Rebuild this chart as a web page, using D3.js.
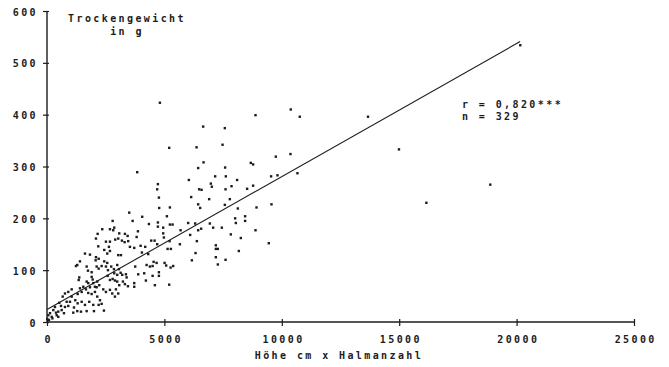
<!DOCTYPE html>
<html>
<head>
<meta charset="utf-8">
<script src="https://cdn.jsdelivr.net/npm/d3@7"></script>
<style>
    body { margin: 0; background: #fff; }
    svg text { font-family: "DejaVu Sans Mono", monospace; font-weight: bold; font-size: 10px; letter-spacing: 2.4px; fill: #1c1c1c; }
</style>
</head>
<body>
<svg id="canvas" width="669" height="367"></svg>
<script>
// Höhe cm x Halmanzahl
let heightTimesStems = [
    4808, 10382, 10765, 8880, 6651, 7574, 5204, 6370, 7476, 3842,
    6668, 6438, 7587, 8680, 8778, 9744, 10369, 10667, 9544, 9816,
    6042, 7161, 7616, 8097, 6978, 7021, 4723, 4693, 6480, 6582,
    7604, 7859, 8523, 8778, 4766, 6140, 6906, 7787, 6438, 6523,
    4778, 5234, 7574, 8923, 9561, 8127, 5106, 4055, 8438, 8438,
    8012, 8042, 4340, 4723, 4723, 4949, 5234, 5349, 6012, 6310,
    6936, 7076, 7446, 5689, 6097, 6438, 6565, 7829, 8255, 8880,
    9446, 3872, 3817, 4438, 4583, 4693, 4949, 4978, 5221, 5659,
    6383, 7191, 7191, 7276, 8170, 6327, 6170, 7191, 7604, 7276,
    3532, 3715, 3987, 4183, 4042, 4310, 5136, 5276, 4540, 4668,
    5008, 5076, 5374, 5263, 4242, 4383, 4498, 3757, 3885, 4140,
    4498, 4766, 4766, 4212, 3715, 3715, 4595, 5204, 3502, 3647,
    2353, 2681, 2864, 2821, 2157, 2510, 2681, 2638, 2906, 3034,
    3076, 3319, 3191, 3306, 3459, 2085, 2183, 2438, 2566, 2681,
    1617, 1830, 2085, 2200, 1289, 1404, 1374, 1349, 1689, 1745,
    1902, 1902, 2072, 2115, 2200, 2327, 2510, 2596, 2438, 2566,
    2736, 2851, 2991, 3064, 3136, 2864, 2991, 3204, 3361, 3391,
    2583, 2681, 2796, 2893, 2991, 3076, 3234, 3319, 3447, 2936,
    3034, 2893, 2681, 2779, 2396, 2510, 2140, 2225, 2115, 1945,
    1970, 2042, 1689, 1757, 1830, 1545, 1659, 1404, 1477, 1306,
    1757, 1902, 2042, 2140, 2255, 2200, 2327, 2425, 1800, 1970,
    1477, 1617, 1689, 2000, 1204, 1306, 1149, 1051, 979, 838,
    906, 766, 1119, 1289, 1447, 668, 766, 523, 596, 625,
    481, 723, 340, 268, 383, 128, 200, 55, 10, 85,
    230, 413, 481, 906, 1051, 1234, 3034, 3149, 2796, 3434,
    13671, 14990, 16156, 18879, 20156
];

// Trockengewicht in g
let dryWeight = [
    423, 410, 396, 399, 377, 374, 336, 337, 342, 289,
    308, 297, 298, 307, 304, 319, 324, 287, 281, 283,
    274, 281, 281, 274, 267, 261, 266, 256, 256, 255,
    256, 262, 257, 263, 240, 241, 237, 237, 227, 220,
    220, 221, 226, 221, 227, 219, 204, 203, 204, 195,
    200, 191, 189, 192, 184, 182, 188, 188, 191, 190,
    190, 182, 182, 177, 168, 177, 180, 169, 162, 177,
    152, 175, 164, 157, 157, 150, 171, 163, 156, 150,
    156, 148, 141, 141, 137, 133, 119, 125, 120, 111,
    145, 143, 147, 145, 134, 131, 141, 141, 116, 114,
    114, 109, 108, 105, 110, 107, 108, 107, 92, 94,
    89, 89, 96, 80, 75, 68, 71, 72, 211, 195,
    179, 179, 182, 177, 170, 155, 155, 145, 159, 161,
    171, 170, 157, 154, 156, 161, 146, 139, 132, 137,
    132, 130, 125, 122, 110, 117, 86, 81, 107, 99,
    96, 87, 119, 107, 103, 108, 107, 100, 117, 114,
    107, 102, 110, 102, 95, 94, 91, 91, 92, 86,
    89, 81, 83, 80, 78, 71, 78, 73, 69, 63,
    55, 49, 62, 55, 63, 58, 78, 71, 67, 82,
    75, 68, 78, 75, 67, 68, 63, 65, 58, 54,
    56, 54, 58, 49, 42, 33, 35, 22, 39, 33,
    39, 33, 21, 21, 42, 36, 28, 49, 39, 39,
    31, 29, 18, 21, 20, 49, 55, 37, 31, 23,
    20, 17, 29, 23, 18, 17, 10, 13, 6, 4,
    7, 13, 10, 58, 63, 108, 129, 129, 195, 166,
    396, 333, 230, 265, 534
];

// Regressionsgerade (Anfang und Ende)
let regressionX = [0, 20150];
let regressionY = [24, 541];

let xTickValues = [0, 5000, 10000, 15000, 20000, 25000];
let yTickValues = [0, 100, 200, 300, 400, 500, 600];

let statLines = ['r = 0,820***', 'n = 329'];

let canvas = d3.select('#canvas');
let ink = '#1c1c1c';

let xScale = d3.scaleLinear().domain([0, 25000]).range([47, 634]);
let yScale = d3.scaleLinear().domain([0, 600]).range([322, 11]);

let drawAxes = () => {
    let xAxis = canvas.append('g')
        .attr('transform', 'translate(0,' + yScale(0) + ')')
        .call(d3.axisBottom(xScale).tickValues(xTickValues).tickSize(4).tickPadding(10).tickFormat(d3.format('d')));
    xAxis.select('.domain').attr('stroke', ink).attr('stroke-width', 1.4).attr('d', 'M' + xScale(0) + ',0H' + xScale(25000));
    xAxis.selectAll('.tick line').attr('stroke', ink).attr('stroke-width', 1.2).attr('y1', -3).attr('y2', 4);
    xAxis.selectAll('.tick text').attr('font-family', null).attr('font-size', null).attr('fill', null).attr('dx', '1.2px');

    let yAxis = canvas.append('g')
        .attr('transform', 'translate(' + xScale(0) + ',0)')
        .call(d3.axisLeft(yScale).tickValues(yTickValues).tickSize(4).tickPadding(5));
    yAxis.select('.domain').attr('stroke', ink).attr('stroke-width', 1.4).attr('d', 'M0,' + yScale(600) + 'V' + yScale(0));
    yAxis.selectAll('.tick line').attr('stroke', ink).attr('stroke-width', 1.2).attr('x1', -4).attr('x2', 2);
    yAxis.selectAll('.tick text').attr('font-family', null).attr('font-size', null).attr('fill', null).attr('dy', '0.4em');
}

let drawPoints = () => {
    canvas.selectAll('rect.point')
        .data(heightTimesStems)
        .enter()
        .append('rect')
        .attr('class', 'point')
        .attr('x', (d) => xScale(d) - 1.2)
        .attr('y', (d, i) => yScale(dryWeight[i]) - 1.2)
        .attr('width', 2.4)
        .attr('height', 2.4)
        .attr('fill', ink);

    canvas.append('line')
        .attr('x1', xScale(regressionX[0]))
        .attr('y1', yScale(regressionY[0]))
        .attr('x2', xScale(regressionX[1]))
        .attr('y2', yScale(regressionY[1]))
        .attr('stroke', ink)
        .attr('stroke-width', 1.1);
}

let drawLabels = () => {
    canvas.append('text').attr('x', 127).attr('y', 22).attr('text-anchor', 'middle').text('Trockengewicht');
    canvas.append('text').attr('x', 127).attr('y', 35).attr('text-anchor', 'middle').text('in g');
    canvas.append('text').attr('x', 339).attr('y', 359).attr('text-anchor', 'middle').text('Höhe cm x Halmanzahl');

    canvas.selectAll('text.stat')
        .data(statLines)
        .enter()
        .append('text')
        .attr('class', 'stat')
        .attr('x', 462)
        .attr('y', (d, i) => 108 + i * 12)
        .text((d) => d);
}

drawAxes();
drawPoints();
drawLabels();
</script>
</body>
</html>
